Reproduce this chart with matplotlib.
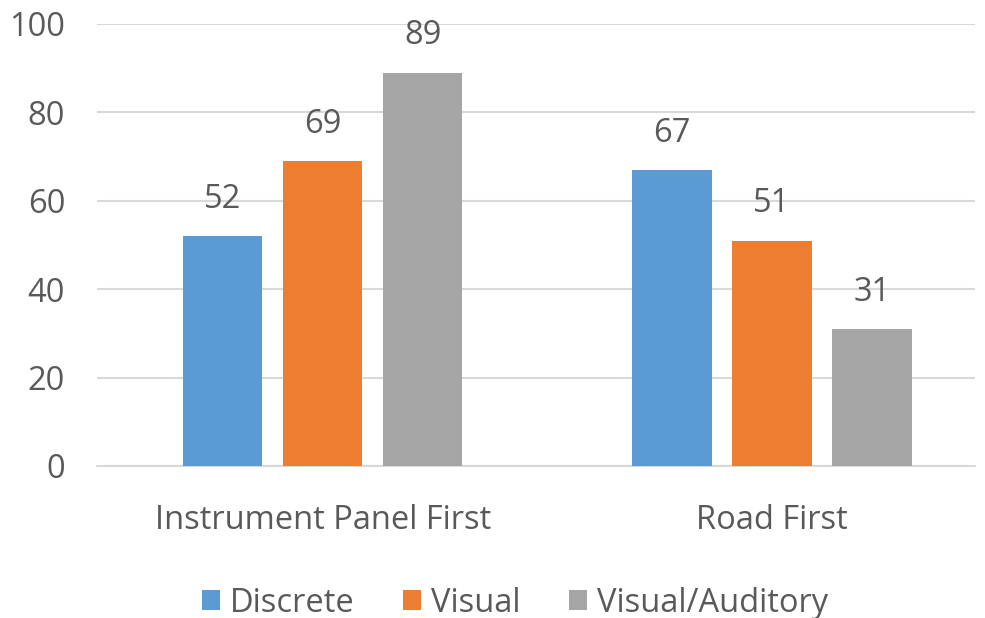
import numpy as np
import matplotlib
matplotlib.use("Agg")
import matplotlib.pyplot as plt
from matplotlib.patches import Patch

plt.rcParams['font.family'] = ['Open Sans', 'DejaVu Sans']

categories = ["Instrument Panel First", "Road First"]
series_names = ["Discrete", "Visual", "Visual/Auditory"]
discrete = [52, 67]
visual = [69, 51]
visual_auditory = [89, 31]
y_ticks = [0, 20, 40, 60, 80, 100]

colors = ["#5B9BD5", "#ED7D31", "#A5A5A5"]
text_color = "#595959"
grid_color = "#D9D9D9"
fs = 23.5

fig = plt.figure(figsize=(9.85, 6.18), dpi=100)
ax = fig.add_axes([97 / 985, 1 - 466 / 618, 878 / 985, 442 / 618])

x = np.arange(len(categories))
width = 0.176
step = 0.2227
all_series = [discrete, visual, visual_auditory]
for i, (vals, name, c) in enumerate(zip(all_series, series_names, colors)):
    pos = x + (i - 1) * step
    bars = ax.bar(pos, vals, width, color=c, label=name, zorder=3)
    for b, v in zip(bars, vals):
        ax.annotate(str(v), (b.get_x() + b.get_width() / 2, v),
                    xytext=(0, 26.5), textcoords="offset points",
                    ha="center", va="center", fontsize=fs, color=text_color)

ax.set_xlim(-0.503, 1.452)
ax.set_ylim(0, 100)
ax.set_yticks(y_ticks)
ax.set_xticks(x)
ax.set_xticklabels(categories)
ax.yaxis.grid(True, color=grid_color, linewidth=1.5, zorder=0)
ax.set_axisbelow(True)
for s in ["top", "right", "left"]:
    ax.spines[s].set_visible(False)
ax.spines["bottom"].set_color(grid_color)
ax.spines["bottom"].set_linewidth(1.5)
ax.tick_params(axis="y", length=0, pad=23, labelsize=fs, labelcolor=text_color)
ax.tick_params(axis="x", length=0, pad=27.5, labelsize=fs, labelcolor=text_color)

handles = [Patch(facecolor=c, edgecolor="none") for c in colors]
fig.legend(handles, series_names, loc="center", bbox_to_anchor=(515 / 985, 1 - 603 / 618),
           ncol=3, frameon=False, fontsize=fs, labelcolor=text_color,
           handlelength=0.55, handleheight=0.55, handletextpad=0.3, columnspacing=1.5,
           borderpad=0)

fig.savefig("out.png", dpi=100)
